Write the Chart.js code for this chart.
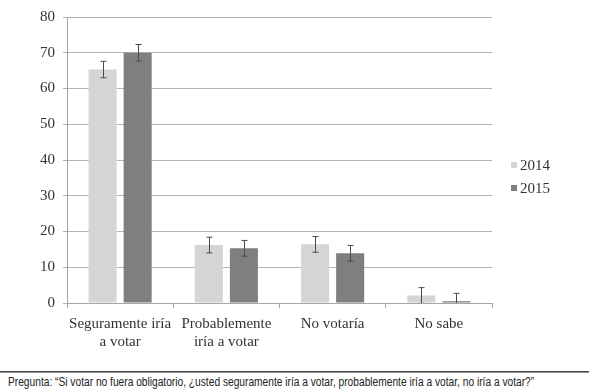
<!DOCTYPE html>
<html>
<head>
<meta charset="utf-8">
<script src="https://cdn.jsdelivr.net/npm/chart.js@4"></script>
<style>
  html, body { margin: 0; padding: 0; background: #fff; }
  #wrap { position: relative; width: 589px; height: 389px; }
  #box { position: absolute; left: 0; top: 0; width: 589px; height: 358px; }
  #rule { position: absolute; left: 0; top: 371px; width: 589px; height: 1px; background: #444; border-bottom: 1px solid #999; }
  #note { position: absolute; left: 8px; top: 375px; font: 12px "Liberation Sans", Arial, sans-serif; color: #222; white-space: nowrap; transform: scaleX(0.85); transform-origin: 0 0; }
</style>
</head>
<body>
<div id="wrap">
  <div id="box"><canvas id="votoChart"></canvas></div>
  <div id="rule"></div>
  <div id="note">Pregunta: “Si votar no fuera obligatorio, ¿usted seguramente iría a votar, probablemente iría a votar, no iría a votar?”</div>
</div>
<script>
const categories = [["Seguramente iría", "a votar"], ["Probablemente", "iría a votar"], "No votaría", "No sabe"];
const years = ["2014", "2015"];
const values2014 = [65.3, 16.2, 16.4, 2.1];
const values2015 = [70.0, 15.3, 13.9, 0.5];
const err2014 = [2.3, 2.2, 2.2, 2.2];
const err2015 = [2.3, 2.2, 2.2, 2.2];

const serif = "Liberation Serif";

// no error bars in chart.js, so draw them here
const errorBars = {
  id: "errorBars",
  afterDatasetsDraw(chart) {
    const ctx = chart.ctx;
    const y = chart.scales.y;
    const area = chart.chartArea;
    ctx.save();
    ctx.beginPath();
    ctx.rect(area.left, area.top - 20, area.right - area.left, area.bottom - area.top + 20);
    ctx.clip();
    ctx.strokeStyle = "#4a4a4a";
    ctx.lineWidth = 1;
    chart.data.datasets.forEach((ds, i) => {
      const meta = chart.getDatasetMeta(i);
      meta.data.forEach((bar, j) => {
        const v = ds.data[j];
        const e = ds.errors[j];
        const x = Math.round(bar.x) + 0.5;
        const top = y.getPixelForValue(v + e);
        const bot = y.getPixelForValue(v - e);
        ctx.beginPath();
        ctx.moveTo(x, top);
        ctx.lineTo(x, bot);
        ctx.moveTo(x - 3, top);
        ctx.lineTo(x + 3, top);
        ctx.moveTo(x - 3, bot);
        ctx.lineTo(x + 3, bot);
        ctx.stroke();
      });
    });
    ctx.restore();
  }
};

// small legend to the right, like the original
const sideLegend = {
  id: "sideLegend",
  afterDraw(chart) {
    const ctx = chart.ctx;
    ctx.save();
    ctx.font = "15px " + serif;
    ctx.textBaseline = "middle";
    chart.data.datasets.forEach((ds, i) => {
      const cy = 165 + i * 23;
      ctx.fillStyle = ds.backgroundColor;
      ctx.fillRect(511, cy - 3, 6, 6);
      ctx.fillStyle = "#333";
      ctx.fillText(ds.label, 520, cy + 1);
    });
    ctx.restore();
  }
};

function draw() {
  new Chart(document.getElementById("votoChart"), {
    type: "bar",
    data: {
      labels: categories,
      datasets: [
        { label: years[0], data: values2014, errors: err2014, backgroundColor: "#d5d5d5" },
        { label: years[1], data: values2015, errors: err2015, backgroundColor: "#7f7f81" }
      ]
    },
    options: {
      responsive: true,
      maintainAspectRatio: false,
      animation: false,
      categoryPercentage: 0.66,
      barPercentage: 0.8,
      layout: { padding: { top: 0, left: 32, right: 97, bottom: 0 } },
      plugins: {
        legend: { display: false },
        tooltip: { enabled: false }
      },
      scales: {
        x: {
          grid: { offset: true, drawOnChartArea: false, tickLength: 5, color: "#a6a6a6" },
          border: { color: "#a6a6a6" },
          ticks: { color: "#333", font: { family: serif, size: 15 }, padding: 7, maxRotation: 0 }
        },
        y: {
          min: 0,
          max: 80,
          ticks: { stepSize: 10, color: "#333", font: { family: serif, size: 15 }, padding: 8 },
          grid: { color: "#b4b4b4", tickLength: 4 },
          border: { color: "#a6a6a6" }
        }
      }
    },
    plugins: [errorBars, sideLegend]
  });
}

Promise.all([
  document.fonts.load("15px 'Liberation Serif'"),
  document.fonts.load("12px 'Liberation Sans'")
]).then(draw, draw);
</script>
</body>
</html>
